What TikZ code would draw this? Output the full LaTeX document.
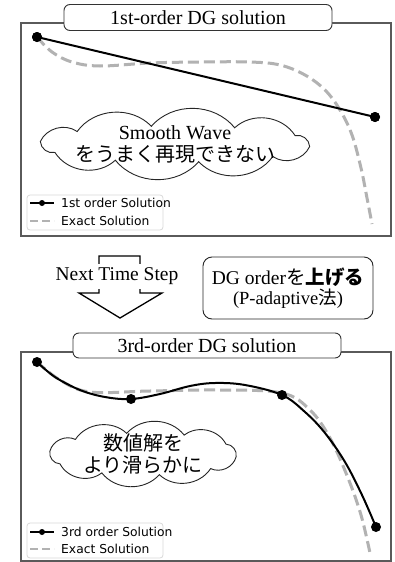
\documentclass[tikz,border=0pt]{standalone}
\usepackage{fontspec}
\setmainfont{Liberation Serif}
\newfontfamily\jp{Noto Sans CJK JP}
\newfontfamily\leg{DejaVu Sans}
\definecolor{exactgray}{RGB}{178,178,178}
\definecolor{framegray}{RGB}{90,90,90}
\tikzset{
  panelframe/.style={draw=framegray, line width=1.2pt},
  titlebox/.style={draw=black!80, line width=0.9pt, rounded corners=6pt, fill=white, minimum width=268pt, minimum height=26pt, inner sep=0pt, font=\fontsize{20}{22}\selectfont},
  exactline/.style={draw=exactgray, line width=3pt, dash pattern=on 11pt off 5pt},
  numline/.style={draw=black, line width=2pt},
  marker/.style={circle, fill=black, minimum size=10pt, inner sep=0pt},
  cloudline/.style={draw=black!85, line width=0.9pt, fill=white},
  cloudtext/.style={align=center, inner sep=0pt, font=\fontsize{20}{22}\selectfont},
  legbox/.style={draw=black!15, line width=0.8pt, rounded corners=3pt, fill=white},
  legtext/.style={anchor=west, inner sep=0pt, font=\leg\fontsize{12.3}{14}\selectfont},
  legmark/.style={circle, fill=black, minimum size=6pt, inner sep=0pt},
}
% cloud outline: #1 prefix, #2 cx, #3 cy, #4 rx, #5 ry
\newcommand{\mycloud}[5]{%
  \foreach \k in {0,...,10}{%
    \pgfmathsetmacro{\ang}{\k*36+8}%
    \coordinate (#1\k) at ({#2+#4*cos(\ang)},{#3+#5*sin(\ang)});
  }%
  \draw[cloudline] (#10) \foreach \k in {1,...,10}{ to[bend left=50] (#1\k) } -- cycle;
}
\begin{document}
\begin{tikzpicture}[x=1pt,y=-1pt]
\useasboundingbox (0,0) rectangle (394,562);
\fill[white] (0,0) rectangle (394,562);

% ---------- top panel ----------
\draw[panelframe] (21,23) rectangle (391,236);
\draw[exactline] plot[smooth, tension=0.6] coordinates {(37,37) (52,52) (72,62) (100,66) (150,63) (200,62) (250,62) (280,65) (305,75) (325,90) (340,110) (352,135) (361,168) (367,198) (372,224)};
\node[marker] (p1) at (37,37) {};
\node[marker] (p2) at (375,117) {};
\draw[numline] (p1.center) -- (p2.center);
\node[marker] at (37,37) {};
\node[marker] at (375,117) {};
\node[titlebox] (t1) at (198,17.5) {1st-order DG solution};

\mycloud{ca}{175}{144}{136}{18}
\node[cloudtext] (c1t) at (175,144) {Smooth Wave\\{\jp をうまく再現できない}};

\draw[legbox] (27,195) rectangle (163,230);
\coordinate (l1a) at (30,203);
\coordinate (l1b) at (54,203);
\draw[numline] (l1a) -- (l1b);
\node[legmark] (l1m) at (42,203) {};
\node[legtext] (l1t) at (61,203) {1st order Solution};
\coordinate (l2a) at (30,221);
\coordinate (l2b) at (54,221);
\draw[draw=exactgray, line width=2pt, dash pattern=on 8pt off 4pt] (l2a) -- (l2b);
\node[legtext] (l2t) at (61,221) {Exact Solution};

% ---------- middle ----------
\draw[line width=1.3pt, line join=miter] (99,293) -- (99,256) -- (140,256) -- (140,293) -- (162,293) -- (120,318) -- (79,293) -- cycle;
\node[fill=white, inner xsep=2pt, inner ysep=0pt, minimum height=25pt, font=\fontsize{19.5}{22}\selectfont] (nts) at (117,276) {Next Time Step};

\node[draw=black!85, line width=0.9pt, rounded corners=9pt, minimum width=170pt, minimum height=62pt, align=center, inner sep=0pt, font=\fontsize{19.5}{20}\selectfont] (dg) at (288,288)
  {DG order{\jp を}{\jp\bfseries 上げる}\\{\fontsize{18.5}{20}\selectfont (P-adaptive{\jp 法})}};

% ---------- bottom panel ----------
\draw[panelframe] (21,352) -- (21,561) -- (391,561) -- (391,352) -- cycle;
\draw[exactline] plot[smooth, tension=0.6] coordinates {(37,362) (60,380) (90,392) (150,391) (220,390) (282,393) (310,410) (330,438) (348,478) (361,515) (370,553)};
\draw[numline] plot[smooth, tension=0.6] coordinates {(37,362) (55,377) (80,390) (105,397) (131,399) (160,394) (190,386) (215,383) (245,385) (282,395) (305,412) (325,433) (345,462) (362,495) (376,527)};
\node[marker] (q1) at (37,362) {};
\node[marker] (q2) at (131,399) {};
\node[marker] (q3) at (282,395) {};
\node[marker] (q4) at (376,527) {};
\node[titlebox, minimum height=25pt] (t2) at (207,345.5) {3rd-order DG solution};

\mycloud{cb}{143}{454}{94}{21}
\node[cloudtext] (c2t) at (143,454) {\jp 数値解を\\\jp より滑らかに};

\draw[legbox] (27,523) rectangle (163,558);
\coordinate (m1a) at (30,532);
\coordinate (m1b) at (54,532);
\draw[numline] (m1a) -- (m1b);
\node[legmark] (m1m) at (42,532) {};
\node[legtext] (m1t) at (61,532) {3rd order Solution};
\coordinate (m2a) at (30,549);
\coordinate (m2b) at (54,549);
\draw[draw=exactgray, line width=2pt, dash pattern=on 8pt off 4pt] (m2a) -- (m2b);
\node[legtext] (m2t) at (61,549) {Exact Solution};
\end{tikzpicture}
\end{document}
